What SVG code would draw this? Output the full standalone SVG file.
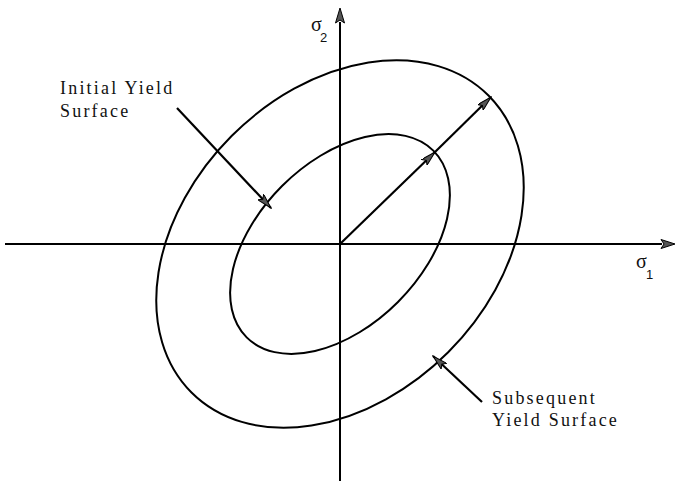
<svg xmlns="http://www.w3.org/2000/svg" width="676" height="483" viewBox="0 0 676 483">
<style>
.ax{stroke:#000;stroke-width:2;fill:none}
.el{stroke:#000;stroke-width:2;fill:none}
.ar{stroke:#000;stroke-width:2.2;fill:none;marker-end:url(#ah)}
.lbl{font-family:"Liberation Serif","Times New Roman",serif;font-size:18px;letter-spacing:2.2px;fill:#111}
.sg{font-family:"Liberation Serif","Times New Roman",serif;font-size:20px;fill:#111}
.sub{font-family:"Liberation Sans",Arial,sans-serif;font-size:13px;fill:#111}
</style>
<defs>
<marker id="ah" markerUnits="userSpaceOnUse" viewBox="0 0 16 8" refX="15" refY="4" markerWidth="16" markerHeight="8" orient="auto">
<path d="M0,0 L15,4 L0,8 L3,4 z" fill="#555" stroke="#000" stroke-width="1"/>
</marker>
</defs>
<rect width="676" height="483" fill="#fff"/>
<g id="axes">
<line class="ax" x1="5" y1="244" x2="662" y2="244"/>
<path d="M661,239.5 L675,244 L661,248.5 L664,244 z" fill="#555" stroke="#000" stroke-width="1"/>
<line class="ax" x1="340" y1="481" x2="340" y2="22"/>
<path d="M335.5,23 L340,8 L344.5,23 L340,20 z" fill="#555" stroke="#000" stroke-width="1"/>
</g>
<g id="initial-yield-surface">
<ellipse class="el" cx="340" cy="244" rx="132" ry="82" transform="rotate(-45 340 244)"/>
</g>
<g id="subsequent-yield-surface">
<ellipse class="el" cx="340" cy="244" rx="210" ry="153" transform="rotate(-45 340 244)"/>
</g>
<g id="connectors">
<line class="ar" x1="340" y1="244" x2="435" y2="152"/>
<line class="ar" x1="435" y1="152" x2="491" y2="97"/>
<line class="ar" x1="177" y1="108" x2="271" y2="208"/>
<line class="ar" x1="482" y1="402" x2="433" y2="356"/>
</g>
<g id="labels">
<text class="lbl" x="60" y="94">Initial Yield</text>
<text class="lbl" x="60" y="117">Surface</text>
<text class="lbl" x="492" y="404">Subsequent</text>
<text class="lbl" x="492" y="426">Yield Surface</text>
<text class="sg" x="311" y="31">σ</text>
<text class="sub" x="320" y="42">2</text>
<text class="sg" x="636" y="268">σ</text>
<text class="sub" x="646" y="279">1</text>
</g>
</svg>
